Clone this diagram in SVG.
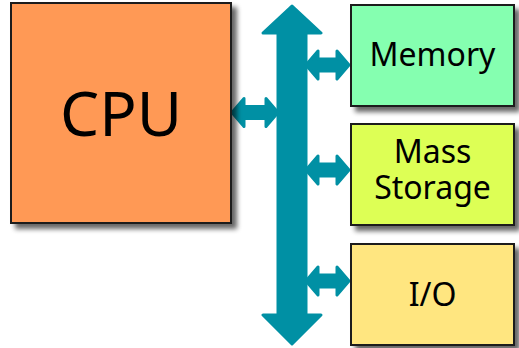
<svg xmlns="http://www.w3.org/2000/svg" width="519" height="348" viewBox="0 0 519 348">
  <style>
    .box { stroke: #1a1a1a; stroke-width: 2; filter: url(#shadow); }
    .label { font-family: "Noto Sans", "Open Sans", sans-serif; fill: #000; text-anchor: middle; }
    .bus { fill: #0090a4; stroke: #0090a4; stroke-width: 3; stroke-linejoin: round; }
  </style>
  <defs>
    <filter id="shadow" x="-10%" y="-10%" width="130%" height="130%">
      <feGaussianBlur in="SourceAlpha" stdDeviation="2.5"/>
      <feOffset dx="5" dy="5" result="b"/>
      <feComponentTransfer in="b" result="s">
        <feFuncA type="linear" slope="0.6"/>
      </feComponentTransfer>
      <feMerge>
        <feMergeNode in="s"/>
        <feMergeNode in="SourceGraphic"/>
      </feMerge>
    </filter>
  </defs>

  <!-- system bus and links -->
  <g id="connectors">
    <polygon class="bus" points="292,6 321,33 306,33 306,315 321,315 292,344 263,315 278,315 278,33 263,33"/>
    <!-- CPU link -->
    <polygon class="bus" points="232,112.5 244,98.5 244,106.5 266,106.5 266,98.5 278,112.5 266,126.5 266,118.5 244,118.5 244,126.5"/>
    <!-- Memory link -->
    <polygon class="bus" points="306,65 318,51 318,59 337,59 337,51 349,65 337,79 337,71 318,71 318,79"/>
    <!-- Mass Storage link -->
    <polygon class="bus" points="306,170 318,156 318,164 337,164 337,156 349,170 337,184 337,176 318,176 318,184"/>
    <!-- I/O link -->
    <polygon class="bus" points="306,281 318,267 318,275 337,275 337,267 349,281 337,295 337,287 318,287 318,295"/>
  </g>

  <g id="cpu">
    <rect class="box" x="11" y="3" width="220" height="220" fill="#ff9955"/>
    <text class="label" x="121" y="136" font-size="62">CPU</text>
  </g>

  <g id="memory">
    <rect class="box" x="351" y="5" width="163" height="101" fill="#85ffb0"/>
    <text class="label" x="432.5" y="66" font-size="32">Memory</text>
  </g>

  <g id="mass-storage">
    <rect class="box" x="351" y="124" width="163" height="101" fill="#ddff55"/>
    <text class="label" x="432.5" y="163" font-size="32">Mass</text>
    <text class="label" x="432.5" y="199" font-size="32">Storage</text>
  </g>

  <g id="io">
    <rect class="box" x="351" y="244" width="163" height="101" fill="#ffe680"/>
    <text class="label" x="432.5" y="306" font-size="32">I/O</text>
  </g>
</svg>
